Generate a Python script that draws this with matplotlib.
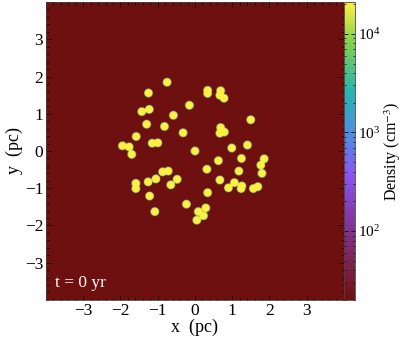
import numpy as np
import matplotlib
matplotlib.use('Agg')
import matplotlib.pyplot as plt
import matplotlib.ticker as tck
from matplotlib.colors import LinearSegmentedColormap, LogNorm

plt.rcParams['font.family'] = 'Liberation Serif'
plt.rcParams['mathtext.fontset'] = 'stix'

# clump centres (pc)
clump_x = [-0.75, -1.25, 0.34, 0.34, 0.69, 0.67, 0.78, -0.15, -1.43, -1.23,
           -0.58, 1.50, -1.30, -0.82, 0.69, 0.67, 0.79, -0.32, -1.58, -1.95,
           -1.77, -1.70, -1.15, -1.00, 0.00, 0.99, 1.41, 1.25, 0.63, 1.86,
           1.77, 1.80, 0.32, 1.18, -0.87, -0.72, 0.67, -0.48, -1.05, -1.26,
           -1.59, -1.59, -0.65, 1.06, 0.90, 1.26, 1.24, 1.57, 1.69, 0.34,
           -1.22, -0.23, 0.29, 0.09, 0.23, 0.05, -1.08]
clump_y = [1.85, 1.56, 1.63, 1.55, 1.62, 1.50, 1.42, 1.23, 1.06, 1.12,
           0.96, 0.84, 0.72, 0.66, 0.63, 0.48, 0.51, 0.49, 0.39, 0.14,
           0.11, -0.09, 0.21, 0.22, 0.00, 0.08, 0.16, -0.20, -0.26, -0.21,
           -0.38, -0.60, -0.49, -0.54, -0.56, -0.54, -0.78, -0.76, -0.75, -0.83,
           -0.87, -1.01, -0.91, -0.85, -0.99, -0.94, -1.01, -1.01, -0.96, -1.12,
           -1.21, -1.43, -1.53, -1.63, -1.74, -1.86, -1.63]
clump_r = 0.11           # clump radius (pc)
rho_bg = 20.0            # ambient density (cm^-3)
rho_clump = 2.1e4        # clump density (cm^-3)
time_label = 't = 0 yr'

# density map
g = np.linspace(-4, 4, 600)
X, Y = np.meshgrid(g, g)
rho = np.full_like(X, rho_bg)
for cx, cy in zip(clump_x, clump_y):
    r = np.hypot(X - cx, Y - cy)
    rho += rho_clump * np.exp(-(r / clump_r) ** 20)

cmap = LinearSegmentedColormap.from_list('dens', [
    (0.00, '#6e1010'), (0.12, '#7a2350'), (0.28, '#8438a8'),
    (0.42, '#8a55f0'), (0.56, '#4f8ee0'), (0.70, '#25b5b0'),
    (0.86, '#7fd050'), (1.00, '#fdf040')])

fig = plt.figure(figsize=(4.07, 3.42), dpi=100)
ax = fig.add_axes([0.113, 0.123, 0.732, 0.871])
cax = fig.add_axes([0.846, 0.123, 0.027, 0.871])

im = ax.imshow(rho, origin='lower', extent=[-4, 4, -4, 4], cmap=cmap,
               norm=LogNorm(vmin=rho_bg, vmax=rho_clump), interpolation='bilinear')
ax.set_xlim(-4, 4)
ax.set_ylim(-4, 4)
ax.set_xticks(range(-3, 4))
ax.set_yticks(range(-3, 4))
ax.xaxis.set_minor_locator(tck.AutoMinorLocator())
ax.yaxis.set_minor_locator(tck.AutoMinorLocator())
ax.tick_params(which='both', direction='in', top=True, right=True, labelsize=12.5)
ax.tick_params(which='major', length=3.5, width=0.6, pad=2)
ax.tick_params(which='minor', length=1.8, width=0.5)
ax.set_xlabel('x  (pc)', fontsize=13, labelpad=0)
ax.set_ylabel('y  (pc)', fontsize=13, labelpad=1)
for s in ax.spines.values():
    s.set_linewidth(0.6)
    s.set_color('#444444')

ax.text(0.03, 0.03, time_label, transform=ax.transAxes, color='white',
        fontsize=12.5, ha='left', va='bottom')

cb = fig.colorbar(im, cax=cax)
cb.outline.set_linewidth(0.6)
cb.outline.set_edgecolor('#444444')
cax.tick_params(which='both', direction='in', left=True, right=True, labelsize=11, pad=2)
cax.tick_params(which='major', length=3, width=0.6)
cax.tick_params(which='minor', length=1.5, width=0.5)
cb.set_label('Density (cm$^{-3}$)', fontsize=11.5, labelpad=1)

fig.savefig('out.png', dpi=100)
